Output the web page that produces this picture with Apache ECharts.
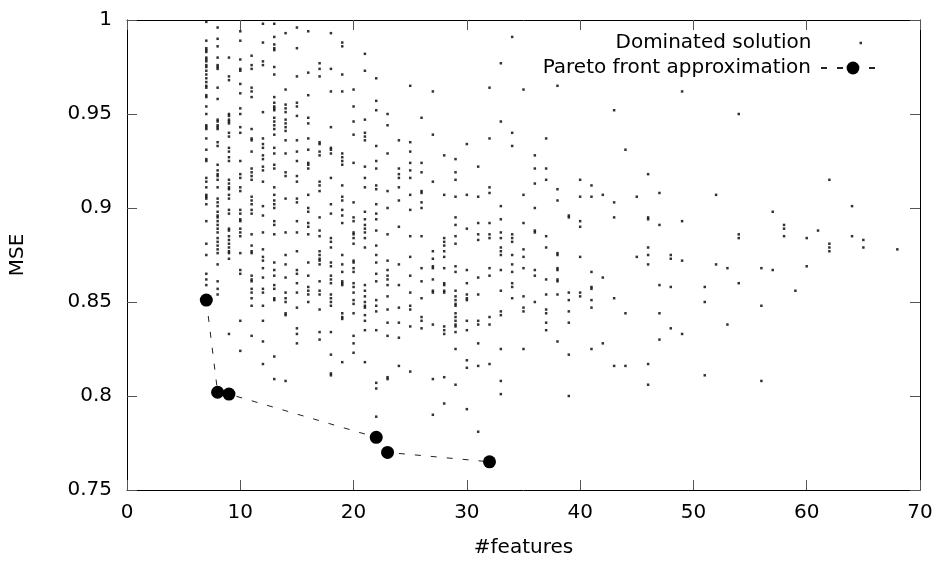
<!DOCTYPE html>
<html>
<head>
<meta charset="utf-8">
<script src="https://cdn.jsdelivr.net/npm/echarts@6/dist/echarts.min.js"></script>
<style>
	html, body { margin: 0; padding: 0; background: #fff; }
	#main { width: 938px; height: 561px; }
</style>
</head>
<body>
<div id="main"></div>
<script>
// dominated solutions, one MSE list per number of features
var f7 = [0.999, 0.989, 0.985, 0.984, 0.983, 0.980, 0.979, 0.978, 0.976, 0.975, 0.973, 0.971, 0.969, 0.967, 0.965, 0.964, 0.960, 0.959, 0.954, 0.950, 0.944, 0.943, 0.942, 0.937, 0.931, 0.926, 0.925, 0.916, 0.914, 0.911, 0.907, 0.906, 0.905, 0.902, 0.893, 0.881, 0.875, 0.865, 0.862, 0.859];
var f8 = [0.996, 0.990, 0.986, 0.980, 0.976, 0.975, 0.974, 0.964, 0.958, 0.947, 0.946, 0.944, 0.943, 0.942, 0.935, 0.933, 0.923, 0.920, 0.918, 0.917, 0.915, 0.911, 0.905, 0.903, 0.901, 0.898, 0.896, 0.895, 0.893, 0.891, 0.889, 0.887, 0.884, 0.882, 0.880, 0.878, 0.876, 0.870, 0.861, 0.857, 0.854];
var f9 = [0.980, 0.970, 0.968, 0.950, 0.949, 0.947, 0.946, 0.945, 0.940, 0.938, 0.932, 0.930, 0.927, 0.925, 0.915, 0.913, 0.911, 0.910, 0.907, 0.905, 0.899, 0.897, 0.889, 0.888, 0.885, 0.883, 0.881, 0.879, 0.877, 0.876, 0.873, 0.833];
var f10 = [0.994, 0.989, 0.979, 0.974, 0.973, 0.966, 0.961, 0.953, 0.950, 0.943, 0.940, 0.925, 0.918, 0.916, 0.911, 0.909, 0.899, 0.897, 0.894, 0.893, 0.889, 0.887, 0.885, 0.876, 0.867, 0.865, 0.840, 0.824];
var f11 = [0.981, 0.976, 0.974, 0.964, 0.962, 0.959, 0.942, 0.937, 0.936, 0.930, 0.921, 0.919, 0.917, 0.915, 0.906, 0.904, 0.902, 0.899, 0.897, 0.886, 0.880, 0.877, 0.876, 0.864, 0.862, 0.861, 0.857, 0.855, 0.852, 0.848, 0.832];
var f12 = [0.998, 0.988, 0.978, 0.976, 0.951, 0.937, 0.934, 0.932, 0.928, 0.926, 0.922, 0.920, 0.914, 0.901, 0.896, 0.887, 0.878, 0.874, 0.872, 0.868, 0.863, 0.857, 0.855, 0.848, 0.840, 0.829, 0.817];
var f13 = [0.998, 0.991, 0.987, 0.985, 0.984, 0.975, 0.971, 0.959, 0.956, 0.954, 0.953, 0.952, 0.948, 0.946, 0.944, 0.942, 0.939, 0.932, 0.929, 0.923, 0.921, 0.911, 0.907, 0.904, 0.902, 0.900, 0.893, 0.891, 0.886, 0.871, 0.867, 0.864, 0.859, 0.857, 0.852, 0.851, 0.821, 0.809];
var f14 = [0.993, 0.963, 0.955, 0.953, 0.951, 0.947, 0.945, 0.943, 0.941, 0.936, 0.929, 0.919, 0.917, 0.905, 0.887, 0.875, 0.870, 0.863, 0.855, 0.852, 0.850, 0.844, 0.843, 0.808];
var f15 = [0.996, 0.985, 0.970, 0.956, 0.954, 0.949, 0.936, 0.930, 0.925, 0.917, 0.914, 0.905, 0.903, 0.893, 0.887, 0.877, 0.867, 0.865, 0.860, 0.855, 0.847, 0.836, 0.833, 0.828];
var f16 = [0.994, 0.972, 0.960, 0.948, 0.945, 0.937, 0.931, 0.924, 0.923, 0.921, 0.907, 0.900, 0.898, 0.892, 0.890, 0.886, 0.871, 0.864, 0.858, 0.856, 0.854, 0.850];
var f17 = [0.977, 0.974, 0.970, 0.935, 0.934, 0.930, 0.928, 0.914, 0.912, 0.909, 0.895, 0.888, 0.885, 0.877, 0.875, 0.873, 0.872, 0.870, 0.861, 0.856, 0.854, 0.846, 0.834, 0.830];
var f18 = [0.993, 0.974, 0.962, 0.943, 0.932, 0.931, 0.929, 0.916, 0.902, 0.897, 0.884, 0.882, 0.879, 0.871, 0.869, 0.864, 0.862, 0.860, 0.854, 0.852, 0.850, 0.848, 0.834, 0.822, 0.812, 0.811];
var f19 = [0.988, 0.986, 0.971, 0.962, 0.929, 0.927, 0.925, 0.923, 0.912, 0.906, 0.904, 0.899, 0.896, 0.892, 0.875, 0.870, 0.866, 0.861, 0.860, 0.859, 0.844, 0.842, 0.841, 0.818];
var f20 = [0.963, 0.954, 0.946, 0.939, 0.924, 0.903, 0.895, 0.893, 0.887, 0.886, 0.884, 0.881, 0.872, 0.871, 0.868, 0.866, 0.860, 0.858, 0.855, 0.851, 0.849, 0.844, 0.832, 0.828, 0.823];
var f21 = [0.982, 0.973, 0.947, 0.940, 0.938, 0.936, 0.922, 0.916, 0.911, 0.898, 0.894, 0.891, 0.889, 0.887, 0.884, 0.879, 0.859, 0.856, 0.853, 0.850, 0.848, 0.847, 0.843, 0.840, 0.835, 0.818];
var f22 = [0.969, 0.957, 0.952, 0.933, 0.925, 0.921, 0.912, 0.910, 0.902, 0.897, 0.894, 0.888, 0.880, 0.875, 0.871, 0.865, 0.861, 0.851, 0.848, 0.845, 0.835, 0.807, 0.804, 0.789];
var f23 = [0.950, 0.944, 0.929, 0.909, 0.900, 0.886, 0.872, 0.867, 0.864, 0.862, 0.859, 0.853, 0.846, 0.839, 0.832, 0.810, 0.809];
var f24 = [0.936, 0.921, 0.918, 0.916, 0.911, 0.904, 0.890, 0.870, 0.859, 0.847, 0.839, 0.831, 0.816];
var f25 = [0.965, 0.935, 0.930, 0.924, 0.920, 0.916, 0.907, 0.899, 0.885, 0.874, 0.864, 0.855, 0.848, 0.846, 0.837, 0.813];
var f26 = [0.948, 0.924, 0.919, 0.909, 0.908, 0.903, 0.900, 0.885, 0.868, 0.861, 0.852, 0.842, 0.840, 0.836];
var f27 = [0.962, 0.939, 0.914, 0.877, 0.873, 0.869, 0.868, 0.862, 0.856, 0.855, 0.838, 0.809, 0.790];
var f28 = [0.928, 0.907, 0.884, 0.882, 0.880, 0.877, 0.874, 0.868, 0.860, 0.859, 0.856, 0.855, 0.837, 0.835, 0.833, 0.810, 0.796];
var f29 = [0.926, 0.919, 0.915, 0.906, 0.895, 0.891, 0.885, 0.881, 0.869, 0.866, 0.856, 0.853, 0.851, 0.849, 0.848, 0.844, 0.842, 0.840, 0.838, 0.837, 0.834, 0.825, 0.806];
var f30 = [0.934, 0.907, 0.889, 0.867, 0.860, 0.854, 0.852, 0.851, 0.840, 0.835, 0.819, 0.815, 0.793];
var f31 = [0.922, 0.906, 0.892, 0.886, 0.883, 0.863, 0.854, 0.840, 0.838, 0.828, 0.816, 0.781];
var f32 = [0.964, 0.937, 0.911, 0.908, 0.892, 0.886, 0.884, 0.868, 0.864, 0.842, 0.838, 0.817];
var f33 = [0.977, 0.946, 0.901, 0.894, 0.887, 0.884, 0.879, 0.877, 0.875, 0.867, 0.856, 0.845, 0.843, 0.825, 0.808, 0.801];
var f34 = [0.991, 0.940, 0.933, 0.886, 0.884, 0.882, 0.875, 0.870, 0.866, 0.860, 0.858, 0.852];
var f35 = [0.963, 0.907, 0.892, 0.878, 0.874, 0.868, 0.853, 0.847, 0.845, 0.825];
var f36 = [0.928, 0.921, 0.913, 0.900, 0.888, 0.887, 0.867, 0.864, 0.850];
var f37 = [0.937, 0.921, 0.915, 0.885, 0.879, 0.862, 0.854, 0.846, 0.844, 0.839, 0.835];
var f38 = [0.965, 0.910, 0.904, 0.876, 0.875, 0.868, 0.867, 0.862, 0.861, 0.854, 0.829];
var f39 = [0.896, 0.895, 0.855, 0.851, 0.845, 0.839, 0.822, 0.800];
var f40 = [0.915, 0.906, 0.893, 0.890, 0.874, 0.855, 0.853];
var f41 = [0.912, 0.906, 0.866, 0.858, 0.857, 0.851, 0.847, 0.825];
var f42 = [0.907, 0.863, 0.828];
var f43 = [0.952, 0.903, 0.895, 0.852, 0.816];
var f44 = [0.931, 0.844, 0.816];
var f45 = [0.906, 0.874];
var f46 = [0.918, 0.895, 0.894, 0.879, 0.875, 0.870, 0.817, 0.806];
var f47 = [0.908, 0.891, 0.859, 0.844, 0.830];
var f48 = [0.875, 0.873, 0.858, 0.836];
var f49 = [0.962, 0.893, 0.872, 0.833];
var f51 = [0.858, 0.850, 0.811];
var f52 = [0.907, 0.870];
var f53 = [0.868, 0.838];
var f54 = [0.950, 0.886, 0.884, 0.860];
var f56 = [0.868, 0.848, 0.808];
var f57 = [0.898, 0.867];
var f58 = [0.891, 0.889, 0.885];
var f59 = [0.856];
var f60 = [0.884, 0.869];
var f61 = [0.888];
var f62 = [0.915, 0.881, 0.879, 0.877];
var f64 = [0.901, 0.885];
var f65 = [0.883, 0.879];
var f68 = [0.878];

var columns = [
	[7, f7], [8, f8], [9, f9], [10, f10], [11, f11], [12, f12], [13, f13], [14, f14],
	[15, f15], [16, f16], [17, f17], [18, f18], [19, f19], [20, f20], [21, f21], [22, f22],
	[23, f23], [24, f24], [25, f25], [26, f26], [27, f27], [28, f28], [29, f29], [30, f30],
	[31, f31], [32, f32], [33, f33], [34, f34], [35, f35], [36, f36], [37, f37], [38, f38],
	[39, f39], [40, f40], [41, f41], [42, f42], [43, f43], [44, f44], [45, f45], [46, f46],
	[47, f47], [48, f48], [49, f49], [51, f51], [52, f52], [53, f53], [54, f54], [56, f56],
	[57, f57], [58, f58], [59, f59], [60, f60], [61, f61], [62, f62], [64, f64], [65, f65],
	[68, f68]
];

// pareto front
var paretoFeatures = [7, 8, 9, 22, 23, 32];
var paretoMSE = [0.851, 0.802, 0.801, 0.778, 0.770, 0.765];

var xTicks = [0, 70, 10];
var yTicks = [0.75, 1, 0.05];

var dominated = [];
for (var i = 0; i < columns.length; i++) {
	for (var j = 0; j < columns[i][1].length; j++) {
		dominated.push([columns[i][0], columns[i][1][j]]);
	}
}
var pareto = [];
for (var k = 0; k < paretoFeatures.length; k++) {
	pareto.push([paretoFeatures[k], paretoMSE[k]]);
}

var font = 'DejaVu Sans';
var tick = { show: true, inside: true, length: 10, lineStyle: { color: '#555', width: 1 } };
var line = { show: true, onZero: false, lineStyle: { color: '#000', width: 1 } };

var myChart = echarts.init(document.getElementById('main'), null, { renderer: 'canvas' });
var option = {
	animation: false,
	backgroundColor: '#fff',
	textStyle: { fontFamily: font },
	grid: { left: 127, right: 18, top: 20, bottom: 71, containLabel: false, outerBoundsMode: 'none' },
	legend: [{
		data: ['Dominated solution'],
		orient: 'vertical',
		align: 'right',
		right: 76,
		top: 33,
		padding: 0,
		icon: 'rect',
		itemWidth: 2.5,
		itemHeight: 2.5,
		selectedMode: false,
		textStyle: { fontFamily: font, fontSize: 20, color: '#000', padding: [0, 43, 0, 0] }
	}, {
		data: ['Pareto front approximation'],
		orient: 'vertical',
		align: 'right',
		right: 52,
		top: 58,
		padding: 0,
		itemWidth: 64,
		itemHeight: 16,
		selectedMode: false,
		textStyle: { fontFamily: font, fontSize: 20, color: '#000', padding: [0, 5, 0, 0] }
	}],
	xAxis: [{
		type: 'value',
		position: 'bottom',
		min: xTicks[0],
		max: xTicks[1],
		interval: xTicks[2],
		axisLine: line,
		axisTick: tick,
		splitLine: { show: false },
		axisLabel: { fontFamily: font, fontSize: 20, color: '#000', margin: 13 },
		name: '#features',
		nameLocation: 'middle',
		nameGap: 48,
		nameTextStyle: { fontFamily: font, fontSize: 20, color: '#000' }
	}, {
		type: 'value',
		position: 'top',
		min: xTicks[0],
		max: xTicks[1],
		interval: xTicks[2],
		axisLine: line,
		axisTick: tick,
		splitLine: { show: false },
		axisLabel: { show: false }
	}],
	yAxis: [{
		type: 'value',
		position: 'left',
		min: yTicks[0],
		max: yTicks[1],
		interval: yTicks[2],
		axisLine: line,
		axisTick: tick,
		splitLine: { show: false },
		axisLabel: { fontFamily: font, fontSize: 20, color: '#000', margin: 15 },
		name: 'MSE',
		nameLocation: 'middle',
		nameRotate: 90,
		nameGap: 99,
		nameTextStyle: { fontFamily: font, fontSize: 20, color: '#000' }
	}, {
		type: 'value',
		position: 'right',
		min: yTicks[0],
		max: yTicks[1],
		interval: yTicks[2],
		axisLine: line,
		axisTick: tick,
		splitLine: { show: false },
		axisLabel: { show: false }
	}],
	series: [{
		name: 'Dominated solution',
		type: 'scatter',
		symbol: 'rect',
		symbolSize: 2.5,
		itemStyle: { color: '#000' },
		data: dominated
	}, {
		name: 'Pareto front approximation',
		type: 'line',
		symbol: 'circle',
		symbolSize: 13,
		showAllSymbol: true,
		itemStyle: { color: '#000' },
		lineStyle: { color: '#222', width: 1, type: [6, 10] },
		z: 3,
		data: pareto
	}]
};
myChart.setOption(option);
</script>
</body>
</html>
